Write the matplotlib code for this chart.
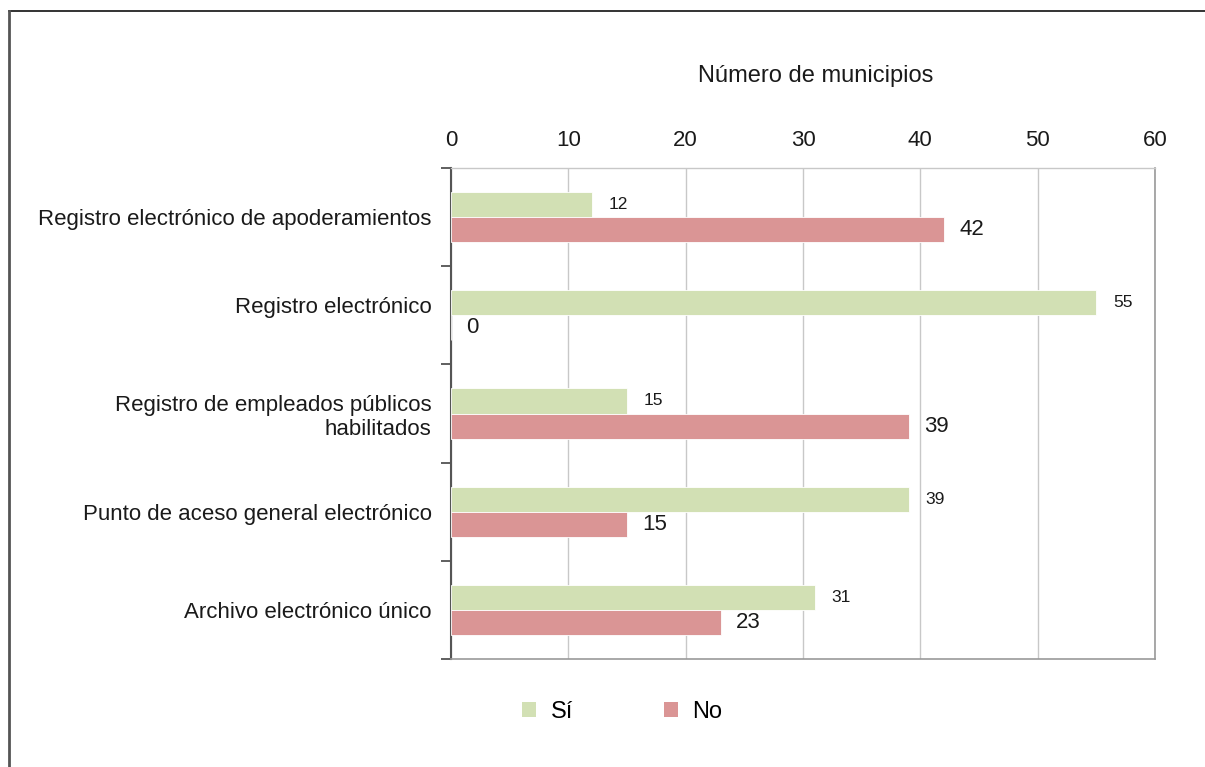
import matplotlib
matplotlib.use("Agg")
import matplotlib.pyplot as plt
import numpy as np
from matplotlib.lines import Line2D
from matplotlib.patches import Patch

plt.rcParams["font.family"] = ["Liberation Sans", "DejaVu Sans"]

categorias = [
    "Registro electrónico de apoderamientos",
    "Registro electrónico\n",
    "Registro de empleados públicos\nhabilitados",
    "Punto de aceso general electrónico",
    "Archivo electrónico único",
]
si = [12, 55, 15, 39, 31]
no = [42, 0, 39, 15, 23]
x_ticks = [0, 10, 20, 30, 40, 50, 60]

VERDE = "#d2e0b4"
ROJO = "#da9595"
TXT = "#1a1a1a"

fig = plt.figure(figsize=(12.05, 7.67), dpi=100)
ax = fig.add_axes([451 / 1205, 1 - 659 / 767, 704 / 1205, 491 / 767])

n = len(categorias)
y = np.arange(n)
h = 0.255
ax.barh(y - h / 2, si, height=h, color=VERDE, edgecolor="white", linewidth=0.6, zorder=3)
ax.barh(y + h / 2, no, height=h, color=ROJO, edgecolor="white", linewidth=0.6, zorder=3)

for yi, v in zip(y, si):
    ax.text(v + 1.45, yi - h / 2, str(v), ha="left", va="center", fontsize=12.5, color=TXT)
for yi, v in zip(y, no):
    ax.text(v + 1.3, yi + h / 2, str(v), ha="left", va="center", fontsize=16, color=TXT)

ax.set_xlim(0, 60)
ax.set_ylim(n - 0.5, -0.5)
ax.xaxis.tick_top()
ax.set_xticks(x_ticks)
ax.set_xticklabels([str(t) for t in x_ticks], fontsize=16, color=TXT)
ax.tick_params(axis="x", length=0, pad=12)

ax.set_yticks(y)
ax.set_yticklabels(categorias, fontsize=16, color=TXT, ha="right")
ax.tick_params(axis="y", which="major", length=0, pad=14)
ax.set_yticks(np.arange(n + 1) - 0.5, minor=True)
ax.tick_params(axis="y", which="minor", length=7, width=1.2, color="#444444", direction="out")

ax.grid(axis="x", color="#c8c8c8", linewidth=1.0, zorder=0)
ax.set_axisbelow(True)
ax.spines["left"].set_color("#555555")
ax.spines["left"].set_linewidth(1.5)
ax.spines["bottom"].set_color("#999999")
ax.spines["bottom"].set_linewidth(1.2)
ax.spines["right"].set_color("#999999")
ax.spines["right"].set_linewidth(1.2)
ax.spines["top"].set_color("#c8c8c8")
ax.spines["top"].set_linewidth(1.0)

fig.text(816 / 1205, 1 - 76 / 767, "Número de municipios", ha="center", va="center",
         fontsize=17, color=TXT)

handles = [Patch(facecolor=VERDE, label="Sí"), Patch(facecolor=ROJO, label="No")]
fig.legend(handles=handles, loc="center", bbox_to_anchor=(622 / 1205, 1 - 712 / 767),
           ncol=2, frameon=False, fontsize=17, handlelength=0.6, handleheight=0.6,
           handletextpad=0.6, columnspacing=3.85)

# marco exterior
fig.add_artist(Line2D([9 / 1205, 1.0], [1 - 11 / 767, 1 - 11 / 767], color="#111111",
                      linewidth=1.2, transform=fig.transFigure))
fig.add_artist(Line2D([9 / 1205, 9 / 1205], [0.0, 1 - 11 / 767], color="#555555",
                      linewidth=2.0, transform=fig.transFigure))

fig.savefig("out.png", dpi=100, facecolor="white")
